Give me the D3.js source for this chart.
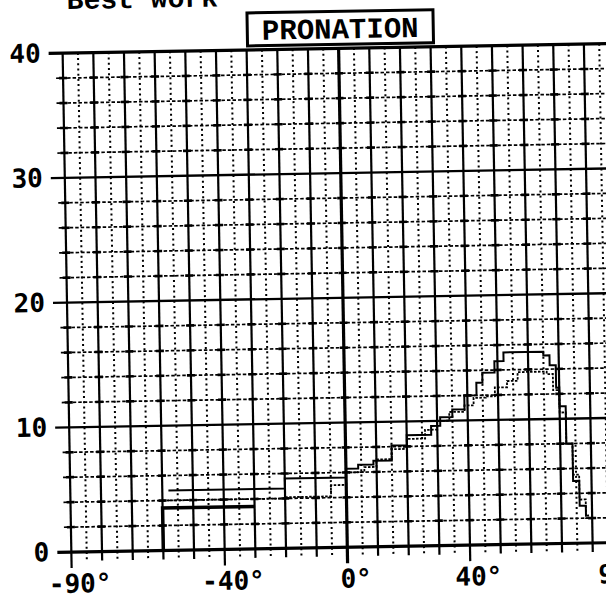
<!DOCTYPE html>
<html><head><meta charset="utf-8">
<script src="https://cdn.jsdelivr.net/npm/d3@7"></script>
<style>body{margin:0;background:#fff;} svg{display:block;}</style>
</head><body>
<svg id="chart" width="606" height="603"></svg>
<script>
const heading = "Best work";
const title = "PRONATION";
const angleTicks = [-90, -40, 0, 40, 90];
const torqueTicks = [0, 10, 20, 30, 40];

// torque traces, [angle in degrees, torque], drawn as steps
const baseTrace = [[-60, 0], [-60, 3.4], [-30, 3.4]];
const trialOne = [[-58, 4.8], [-20, 5.6], [0, 6.3], [4, 6.6], [9, 6.9], [15, 8.1], [20, 8.9], [28, 9.6],
  [31, 10.3], [35, 10.9], [39, 12.0], [43, 13.0], [45, 13.8], [49, 14.7], [52, 15.4],
  [65, 15.1], [67, 14.3], [69, 12.5], [70, 11], [72, 8], [74, 5], [76, 3], [78, 2.2], [79, 2.2]];
const trialTwo = [[-60, 4.0], [-20, 4.1], [-5, 5.0], [0, 6.0], [6, 6.4], [10, 7.0], [15, 7.8], [20, 8.6], [26, 9.3],
  [30, 10.0], [34, 10.7], [39, 11.2], [42, 11.8], [46, 11.9], [49, 12.6], [53, 13.1], [56.5, 13.8], [66, 13.6],
  [68, 12.3], [70, 10.5], [72, 8], [74, 5.5], [76, 3.5], [78, 2.0], [80, 2.0]];

const svg = d3.select("#chart");
const g = svg.append("g").attr("transform", "rotate(-1 303 301)");

const x = d3.scaleLinear().domain([-90, 90]).range([67, 619]);
const y = d3.scaleLinear().domain([0, 40]).range([548, 49]);

const gridRight = 640;
const ink = "#000";
const minorTorque = d3.range(2, 40, 2).filter(v => v % 10 !== 0);
const majorAngle = d3.range(-90, 100, 10);
const minorAngle = d3.range(-85, 95, 10);

// minor torque lines every 2
g.append("g").selectAll("line")
  .data(minorTorque)
  .join("line")
  .attr("x1", 60).attr("x2", gridRight)
  .attr("y1", d => y(d)).attr("y2", d => y(d))
  .attr("stroke", ink).attr("stroke-width", 1.7).attr("stroke-dasharray", "3.5 2");

// minor angle lines every 10, offset by 5
g.append("g").selectAll("line")
  .data(minorAngle)
  .join("line")
  .attr("x1", d => x(d)).attr("x2", d => x(d))
  .attr("y1", y(40)).attr("y2", y(0) + 8)
  .attr("stroke", ink).attr("stroke-width", 2).attr("stroke-dasharray", "2 3.2");

// major angle lines every 10
g.append("g").selectAll("line")
  .data(majorAngle)
  .join("line")
  .attr("x1", d => x(d)).attr("x2", d => x(d))
  .attr("y1", y(40))
  .attr("y2", d => y(0) + (angleTicks.includes(d) ? 16 : 9))
  .attr("stroke", ink).attr("stroke-width", d => d === 0 ? 3.2 : 2.2);

// cross marks where the dashed torque lines meet the solid angle lines
const crosses = [];
majorAngle.forEach(a => minorTorque.forEach(t => crosses.push([a, t])));
g.append("g").selectAll("line")
  .data(crosses)
  .join("line")
  .attr("x1", d => x(d[0]) - 4).attr("x2", d => x(d[0]) + 4)
  .attr("y1", d => y(d[1])).attr("y2", d => y(d[1]))
  .attr("stroke", ink).attr("stroke-width", 2.6);

// major torque lines every 10
g.append("g").selectAll("line")
  .data(torqueTicks)
  .join("line")
  .attr("x1", 53).attr("x2", gridRight)
  .attr("y1", d => y(d)).attr("y2", d => y(d))
  .attr("stroke", ink).attr("stroke-width", d => (d === 0 || d === 40) ? 3.2 : 2.4);

// axis labels
const yAxis = g.append("g").attr("transform", "translate(54,0)")
  .call(d3.axisLeft(y).tickValues(torqueTicks).tickSize(0).tickPadding(9).tickFormat(d => String(d)));
yAxis.select(".domain").remove();
yAxis.selectAll("text")
  .attr("font-family", "DejaVu Sans Mono").attr("font-weight", "bold").attr("font-size", 26).attr("fill", ink);

const xAxis = g.append("g").attr("transform", `translate(0,${y(0)})`)
  .call(d3.axisBottom(x).tickValues(angleTicks).tickSize(0).tickPadding(22).tickFormat(d => `${d}°`));
xAxis.select(".domain").remove();
xAxis.selectAll("text")
  .attr("font-family", "DejaVu Sans Mono").attr("font-weight", "bold").attr("font-size", 26).attr("fill", ink)
  .attr("dx", d => d === 90 ? "-0.1em" : "0.3em");

// traces
const stepLine = d3.line().x(d => x(d[0])).y(d => y(d[1])).curve(d3.curveStepAfter);
g.append("path").datum(baseTrace).attr("d", stepLine)
  .attr("fill", "none").attr("stroke", ink).attr("stroke-width", 3.5);
g.append("path").datum(trialTwo).attr("d", stepLine)
  .attr("fill", "none").attr("stroke", ink).attr("stroke-width", 1.8).attr("stroke-dasharray", "2.5 1.5");
g.append("path").datum(trialOne).attr("d", stepLine)
  .attr("fill", "none").attr("stroke", ink).attr("stroke-width", 2);

// title box
const box = g.append("g").attr("transform", "translate(252,12)");
box.append("rect").attr("x", 0).attr("y", 0).attr("width", 186).attr("height", 33)
  .attr("fill", "#fff").attr("stroke", ink).attr("stroke-width", 3);
box.append("text").attr("x", 93).attr("y", 27).attr("text-anchor", "middle")
  .attr("font-family", "Liberation Mono").attr("font-weight", "bold").attr("font-size", 29).attr("fill", ink)
  .text(title);

g.append("text").attr("x", 72).attr("y", 5)
  .attr("font-family", "Liberation Mono").attr("font-weight", "bold").attr("font-size", 28).attr("fill", ink)
  .text(heading);
</script>
</body></html>
